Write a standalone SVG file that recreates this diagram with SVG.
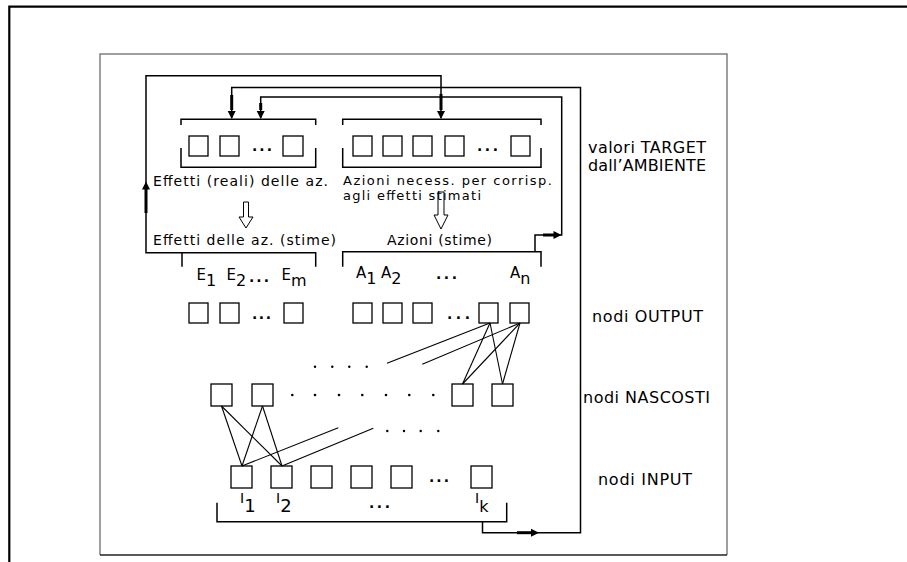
<svg xmlns="http://www.w3.org/2000/svg" width="907" height="562" viewBox="0 0 907 562">
<style>
.t{font-family:"DejaVu Sans","Liberation Sans",sans-serif;font-size:14px;fill:#000}
.r{font-size:16px}
.lb{font-size:15px}
.sb{font-size:16px}
.box{fill:#fff;stroke:#000;stroke-width:1.3}
.br{fill:none;stroke:#000;stroke-width:1.5}
.ln{fill:none;stroke:#000;stroke-width:1.5}
.th{fill:none;stroke:#000;stroke-width:3}
.cn{fill:none;stroke:#000;stroke-width:1.1}
.ho{fill:none;stroke:#000;stroke-width:1}
.dt{fill:#000}
</style>
<defs>
<path id="ah" d="M0,0 L-8,-4 L-8,4 Z" fill="#000"/>
</defs>
<rect width="907" height="562" fill="#fff"/>
<!-- outer frame -->
<path d="M9.3,562 V6.7 H907" fill="none" stroke="#000" stroke-width="2.2"/>
<!-- inner frame -->
<path d="M100,555 V54 H727 V555" fill="none" stroke="#808080" stroke-width="1.5"/>
<line x1="100" y1="555" x2="727" y2="555" stroke="#222" stroke-width="1.5"/>

<!-- top target groups -->
<g id="target-effetti">
<path class="br" d="M181,125 V119.3 H315.7 V125 M181,148 V167.3 H315.7 V148"/>
<rect class="box" x="189" y="136" width="19" height="20"/>
<rect class="box" x="220" y="136" width="19" height="20"/>
<text class="t" x="252" y="151" textLength="20" lengthAdjust="spacing" font-weight="bold">...</text>
<rect class="box" x="283" y="136" width="20" height="20"/>
<text class="t" x="153" y="185.5" textLength="175" lengthAdjust="spacing">Effetti (reali) delle az.</text>
</g>
<g id="target-azioni">
<path class="br" d="M342.7,125 V119.3 H541 V125 M342.7,148 V167.3 H541 V148"/>
<rect class="box" x="353" y="136" width="19" height="20"/>
<rect class="box" x="383" y="136" width="19" height="20"/>
<rect class="box" x="413" y="136" width="19" height="20"/>
<rect class="box" x="445" y="136" width="19" height="20"/>
<text class="t" x="477" y="151" textLength="21" lengthAdjust="spacing" font-weight="bold">...</text>
<rect class="box" x="511" y="136" width="19" height="20"/>
<text class="t" font-size="13" style="font-size:13px"><tspan x="343" y="184.5" textLength="209" lengthAdjust="spacing">Azioni necess. per corrisp.</tspan><tspan x="343" y="200" textLength="138" lengthAdjust="spacing">agli effetti stimati</tspan></text>
</g>
<g id="label-target">
<text class="t r"><tspan x="588" y="153" textLength="118" lengthAdjust="spacing">valori TARGET</tspan><tspan x="588" y="171" textLength="118" lengthAdjust="spacing">dall’AMBIENTE</tspan></text>
</g>

<!-- output groups -->
<g id="output-effetti">
<path class="br" d="M182,266.7 V252.7 H315.7 V266.7"/>
<text class="t" x="153" y="245" textLength="183" lengthAdjust="spacing">Effetti delle az. (stime)</text>
<text class="t lb" x="196.5" y="280">E<tspan class="sb" dy="6">1</tspan></text>
<text class="t lb" x="226.5" y="280">E<tspan class="sb" dy="6">2</tspan></text>
<text class="t" x="249" y="282" textLength="20" lengthAdjust="spacing" font-weight="bold">...</text>
<text class="t lb" x="281.5" y="280">E<tspan class="sb" dy="6">m</tspan></text>
</g>
<g id="output-azioni">
<path class="br" d="M342.7,266.7 V251.7 H541 V266.7"/>
<text class="t" x="387" y="245" textLength="105" lengthAdjust="spacing">Azioni (stime)</text>
<text class="t lb" x="356" y="278">A<tspan class="sb" dy="6">1</tspan></text>
<text class="t lb" x="381" y="278">A<tspan class="sb" dy="6">2</tspan></text>
<text class="t" x="436" y="279" textLength="21" lengthAdjust="spacing" font-weight="bold">...</text>
<text class="t lb" x="510" y="278">A<tspan class="sb" dy="6">n</tspan></text>
</g>
<g id="output-nodes">
<rect class="box" x="189" y="303" width="19" height="20"/>
<rect class="box" x="220" y="303" width="19" height="20"/>
<text class="t" x="252" y="319" textLength="19" lengthAdjust="spacing" font-weight="bold">...</text>
<rect class="box" x="284" y="303" width="19" height="20"/>
<rect class="box" x="353" y="303" width="19" height="20"/>
<rect class="box" x="383" y="303" width="19" height="20"/>
<rect class="box" x="413" y="303" width="19" height="20"/>
<text class="t" x="447" y="319" textLength="23" lengthAdjust="spacing" font-weight="bold">...</text>
<rect class="box" x="479" y="303" width="19" height="20"/>
<rect class="box" x="510" y="303" width="19" height="20"/>
</g>
<g id="label-output"><text class="t r" x="592" y="322" textLength="111" lengthAdjust="spacing">nodi OUTPUT</text></g>

<!-- hidden nodes -->
<g id="hidden-nodes">
<rect class="box" x="211" y="384" width="21" height="22"/>
<rect class="box" x="252" y="384" width="21" height="22"/>
<rect class="box" x="452" y="384" width="21" height="22"/>
<rect class="box" x="492" y="384" width="21" height="22"/>
<g class="dt">
<circle cx="292.3" cy="395" r="1.3"/><circle cx="315" cy="395" r="1.3"/><circle cx="339" cy="395" r="1.3"/><circle cx="362.3" cy="395" r="1.3"/><circle cx="386" cy="395" r="1.3"/><circle cx="409.3" cy="395" r="1.3"/><circle cx="433.3" cy="395" r="1.3"/>
<circle cx="315" cy="366.7" r="1.2"/><circle cx="332.3" cy="366.7" r="1.2"/><circle cx="349.3" cy="366.7" r="1.2"/><circle cx="366.7" cy="366.7" r="1.2"/>
<circle cx="387.3" cy="431" r="1.2"/><circle cx="404" cy="431" r="1.2"/><circle cx="420.7" cy="431" r="1.2"/><circle cx="438.3" cy="431" r="1.2"/>
</g>
</g>
<g id="label-hidden"><text class="t r" x="583" y="403" textLength="127" lengthAdjust="spacing">nodi NASCOSTI</text></g>

<!-- input nodes -->
<g id="input-nodes">
<rect class="box" x="231" y="466" width="21" height="22"/>
<rect class="box" x="271" y="466" width="21" height="22"/>
<rect class="box" x="311" y="466" width="21" height="22"/>
<rect class="box" x="351" y="466" width="21" height="22"/>
<rect class="box" x="391" y="466" width="21" height="22"/>
<text class="t" x="429" y="482" textLength="20" lengthAdjust="spacing" font-weight="bold">...</text>
<rect class="box" x="471" y="466" width="21" height="22"/>
</g>
<g id="input-labels">
<path class="br" d="M217,502.7 V521.7 H506.7 V502.7"/>
<text class="t" x="240" y="503" font-size="11">I<tspan dy="9" font-size="18">1</tspan></text>
<text class="t" x="276" y="503" font-size="11">I<tspan dy="9" font-size="18">2</tspan></text>
<text class="t" x="369" y="508" textLength="21" lengthAdjust="spacing" font-weight="bold">...</text>
<text class="t" x="475" y="503" font-size="11">I<tspan dy="9" font-size="16">k</tspan></text>
</g>
<g id="label-input"><text class="t r" x="598" y="485" textLength="94" lengthAdjust="spacing">nodi INPUT</text></g>

<!-- connectors -->
<g id="connectors">
<!-- loop A: effetti stime -> azioni necess -->
<path class="ln" d="M182,252.7 H146 V75.7 H441 V118"/>
<line class="th" x1="146" y1="188" x2="146" y2="213"/>
<use href="#ah" transform="translate(146,181.5) rotate(-90)"/>
<line class="th" x1="441" y1="94" x2="441" y2="110"/>
<use href="#ah" transform="translate(441,119) rotate(90)"/>
<!-- loop B: input -> effetti reali -->
<path class="ln" d="M482.5,521.7 V532.7 H580.5 V87.5 H231.7 V118"/>
<line class="th" x1="517" y1="532.7" x2="531" y2="532.7"/>
<use href="#ah" transform="translate(539,532.7)"/>
<line class="th" x1="231.7" y1="95" x2="231.7" y2="110"/>
<use href="#ah" transform="translate(231.7,119) rotate(90)"/>
<!-- loop C: azioni stime -> effetti reali -->
<path class="ln" d="M535,251.7 V235 H561.7 V97 H260.7 V118"/>
<line class="th" x1="543" y1="235" x2="554" y2="235"/>
<use href="#ah" transform="translate(561.5,235)"/>
<line class="th" x1="260.7" y1="103" x2="260.7" y2="110"/>
<use href="#ah" transform="translate(260.7,119) rotate(90)"/>
<!-- hollow arrows -->
<path class="ho" d="M243.5,202 V217 H239 L246,228 L253,217 H248.5 V202 Z"/>
<path class="ho" d="M438,192 V215 H434 L441,229 L448,215 H444 V192 Z"/>
<!-- output -> hidden -->
<line class="cn" x1="490" y1="323" x2="462.5" y2="384"/>
<line class="cn" x1="490" y1="323" x2="502.5" y2="384"/>
<line class="cn" x1="520" y1="323" x2="462.5" y2="384"/>
<line class="cn" x1="520" y1="323" x2="502.5" y2="384"/>
<line class="cn" x1="490" y1="323" x2="387" y2="363.3"/>
<line class="cn" x1="520" y1="323" x2="422.3" y2="364.3"/>
<!-- hidden -> input -->
<line class="cn" x1="221.5" y1="406" x2="242" y2="466"/>
<line class="cn" x1="221.5" y1="406" x2="282" y2="466"/>
<line class="cn" x1="262.5" y1="406" x2="242" y2="466"/>
<line class="cn" x1="262.5" y1="406" x2="282" y2="466"/>
<line class="cn" x1="242" y1="466" x2="338.3" y2="427.7"/>
<line class="cn" x1="282" y1="466" x2="373.3" y2="428.3"/>
</g>
</svg>
